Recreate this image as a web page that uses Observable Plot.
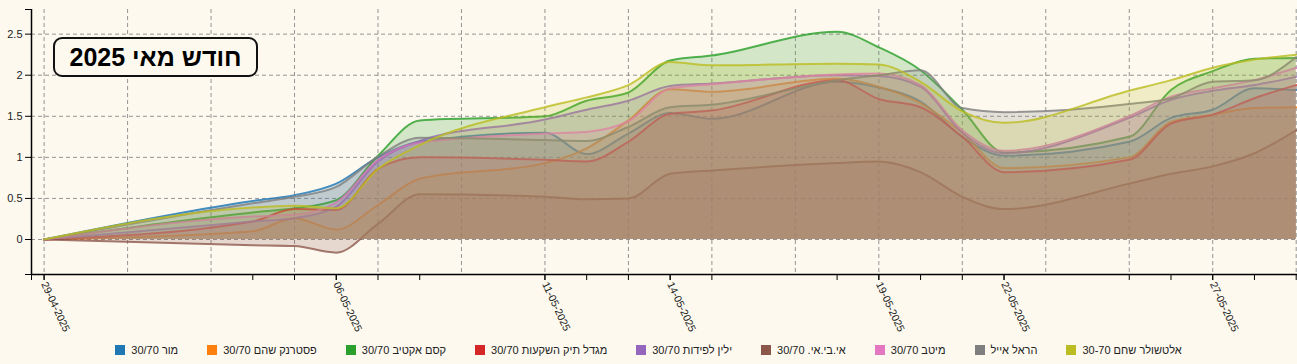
<!DOCTYPE html>
<html>
<head>
<meta charset="utf-8">
<script src="https://cdn.jsdelivr.net/npm/d3@7"></script>
<script src="https://cdn.jsdelivr.net/npm/@observablehq/plot@0.6"></script>
<style>
  html, body { margin: 0; padding: 0; background: #fdf9ef; }
  body { width: 1297px; height: 364px; overflow: hidden; font-family: "Liberation Sans", Arial, sans-serif; }
  #wrap { position: relative; width: 1297px; height: 364px; }
  #title {
    position: absolute; left: 53px; top: 37px; width: 201px; height: 36px;
    border: 2px solid #111; border-radius: 9px; background: #fdf9ef;
    display: flex; align-items: center; justify-content: center;
    font: bold 25px "Liberation Sans", Arial, sans-serif; color: #000; direction: rtl;
  }
  #legend {
    position: absolute; left: 0; top: 336px; width: 1297px; height: 28px;
    display: flex; justify-content: center; align-items: center; gap: 29px;
    font-size: 11px; color: #222;
  }
  .item { display: flex; align-items: center; gap: 6px; }
  .sw { width: 10px; height: 10px; display: inline-block; }
</style>
</head>
<body>
<div id="wrap">
  <div id="chart"></div>
  <div id="title">חודש מאי 2025</div>
  <div id="legend"></div>
</div>
<script>
const dates = ["2025-04-29","2025-05-04","2025-05-05","2025-05-06","2025-05-07","2025-05-08","2025-05-11","2025-05-12","2025-05-13","2025-05-14","2025-05-15","2025-05-18","2025-05-19","2025-05-20","2025-05-21","2025-05-22","2025-05-25","2025-05-26","2025-05-27","2025-05-28","2025-05-29"];

const names = ["מור 30/70", "פסטרנק שהם 30/70", "קסם אקטיב 30/70", "מגדל תיק השקעות 30/70", "ילין לפידות 30/70", "אי.בי.אי. 30/70", "מיטב 30/70", "הראל אייל", "אלטשולר שחם 30-70"];
const colors = ["#1f77b4","#ff7f0e","#2ca02c","#d62728","#9467bd","#8c564b","#e377c2","#7f7f7f","#bcbd22"];

const mor       = [0, 0.47, 0.54, 0.68, 1.00, 1.19, 1.30, 1.04, 1.29, 1.54, 1.47, 1.92, 1.85, 1.68, 1.25, 1.02, 1.19, 1.48, 1.58, 1.84, 1.82];
const pasternak = [0, 0.10, 0.26, 0.12, 0.42, 0.74, 0.93, 1.11, 1.45, 1.83, 1.80, 1.96, 1.86, 1.66, 1.30, 0.87, 1.00, 1.43, 1.52, 1.60, 1.61];
const kesem     = [0, 0.33, 0.38, 0.48, 1.02, 1.45, 1.50, 1.69, 1.79, 2.18, 2.24, 2.53, 2.34, 2.06, 1.58, 1.06, 1.25, 1.82, 2.05, 2.20, 2.21];
const migdal    = [0, 0.22, 0.37, 0.36, 0.86, 1.00, 0.97, 0.95, 1.19, 1.53, 1.57, 1.94, 1.71, 1.61, 1.25, 0.82, 0.97, 1.41, 1.52, 1.72, 1.88];
const yalin     = [0, 0.22, 0.26, 0.40, 0.95, 1.20, 1.46, 1.58, 1.69, 1.87, 1.90, 2.00, 1.99, 1.86, 1.30, 1.05, 1.48, 1.70, 1.81, 1.88, 1.98];
const ibi       = [0, -0.07, -0.08, -0.16, 0.19, 0.55, 0.52, 0.49, 0.50, 0.80, 0.84, 0.93, 0.95, 0.82, 0.52, 0.37, 0.68, 0.80, 0.89, 1.05, 1.33];
const meitav    = [0, 0.28, 0.30, 0.45, 0.97, 1.18, 1.29, 1.31, 1.44, 1.84, 1.89, 2.01, 2.02, 1.88, 1.33, 1.08, 1.50, 1.74, 1.84, 1.94, 2.09];
const harel     = [0, 0.44, 0.52, 0.64, 1.01, 1.24, 1.21, 1.20, 1.37, 1.61, 1.64, 1.94, 2.00, 2.06, 1.60, 1.55, 1.65, 1.72, 1.92, 1.94, 2.22];
const altshuler = [0, 0.39, 0.41, 0.38, 0.86, 1.15, 1.61, 1.73, 1.88, 2.16, 2.12, 2.14, 2.13, 1.92, 1.56, 1.42, 1.81, 1.94, 2.09, 2.19, 2.25];

const seriesValues = [mor, pasternak, kesem, migdal, yalin, ibi, meitav, harel, altshuler];

const labelDates = ["2025-04-29","2025-05-06","2025-05-11","2025-05-14","2025-05-19","2025-05-22","2025-05-27"];
const gridDates = ["2025-04-29","2025-05-01","2025-05-03","2025-05-05","2025-05-07","2025-05-09","2025-05-11","2025-05-13","2025-05-15","2025-05-17","2025-05-19","2025-05-21","2025-05-23","2025-05-25","2025-05-27","2025-05-29"];
const yTicks = [0, 0.5, 1, 1.5, 2, 2.5];
const xDomain = ["2025-04-28T16:45Z", "2025-05-29T00:45Z"].map(d => new Date(d));
const yDomain = [-0.426, 2.8];

const toDate = a => a.map(d => new Date(d));
const fmt = d3.utcFormat("%d-%m-%Y");

const seriesMarks = seriesValues.flatMap((vals, k) => {
  const rows = vals.map((v, i) => ({date: new Date(dates[i]), name: names[k], value: v}));
  return [
    Plot.areaY(rows, {x: "date", y1: 0, y2: "value", fill: colors[k], fillOpacity: 0.2, curve: "monotone-x"}),
    Plot.lineY(rows, {x: "date", y: "value", stroke: colors[k], strokeWidth: 2, strokeOpacity: 0.8, curve: "monotone-x"})
  ];
});

const plot = Plot.plot({
  width: 1297,
  height: 336,
  marginLeft: 31,
  marginRight: 0,
  marginTop: 9,
  marginBottom: 62,
  style: {background: "transparent", fontFamily: "'Liberation Sans', Arial, sans-serif", color: "#222"},
  x: {type: "utc", domain: xDomain, label: null},
  y: {domain: yDomain, label: null},
  marks: [
    Plot.gridX(toDate(gridDates), {stroke: "#8a8a8a", strokeOpacity: 0.9, strokeDasharray: "4,3"}),
    Plot.gridY(yTicks, {stroke: "#8a8a8a", strokeOpacity: 0.9, strokeDasharray: "4,3"}),
    ...seriesMarks,
    Plot.ruleX([xDomain[0]], {stroke: "#000", strokeWidth: 1.5}),
    Plot.ruleY([yDomain[0]], {stroke: "#000", strokeWidth: 1.5}),
    Plot.axisY(yTicks, {tickSize: 6, tickPadding: 3, fontSize: 11, tickFormat: d => String(d), stroke: "#000", label: null}),
    Plot.axisY(yDomain, {tickSize: 6, tickFormat: () => "", stroke: "#000", label: null}),
    Plot.axisX(toDate(dates), {tickSize: 6, tickFormat: () => "", stroke: "#000", label: null}),
    Plot.axisX(xDomain, {tickSize: 6, tickFormat: () => "", stroke: "#000", label: null}),
    Plot.axisX(toDate(labelDates), {tickSize: 6, tickPadding: 2, tickRotate: 65, fontSize: 10.5, tickFormat: fmt, stroke: "#000", label: null})
  ]
});
document.getElementById("chart").appendChild(plot);

const legend = document.getElementById("legend");
names.forEach((n, k) => {
  const it = document.createElement("div");
  it.className = "item";
  const sw = document.createElement("span");
  sw.className = "sw";
  sw.style.background = colors[k];
  const tx = document.createElement("span");
  tx.dir = "rtl";
  tx.textContent = n;
  it.appendChild(sw);
  it.appendChild(tx);
  legend.appendChild(it);
});
</script>
</body>
</html>
